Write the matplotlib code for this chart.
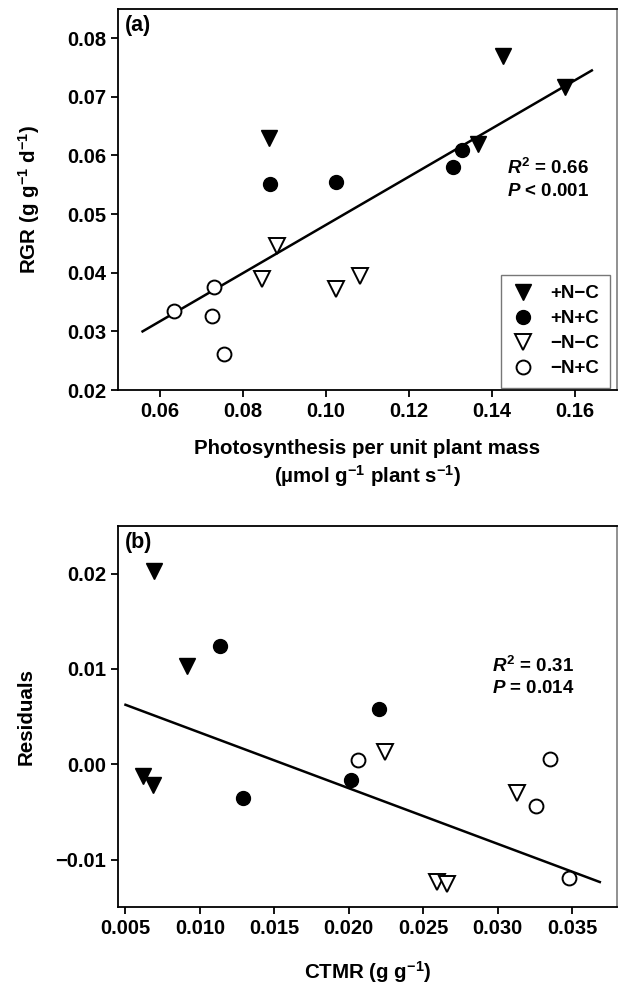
"""Two-panel scatter: RGR vs photosynthesis (a) and residuals vs CTMR (b)."""

import matplotlib
matplotlib.use("Agg")
import matplotlib.pyplot as plt

plt.rcParams["font.family"] = ["Liberation Sans", "DejaVu Sans"]
plt.rcParams["font.weight"] = "bold"
plt.rcParams["mathtext.fontset"] = "custom"
plt.rcParams["mathtext.rm"] = "Liberation Sans:bold"
plt.rcParams["mathtext.bf"] = "Liberation Sans:bold"
plt.rcParams["mathtext.it"] = "Liberation Sans:bold:italic"
plt.rcParams["mathtext.default"] = "rm"

# Panel (a): photosynthesis per unit plant mass vs RGR
a_nmc_x = [0.1427, 0.1575, 0.0864, 0.1365]
a_nmc_y = [0.0770, 0.0716, 0.0629, 0.0620]
a_npc_x = [0.0865, 0.1024, 0.1307, 0.1327]
a_npc_y = [0.0551, 0.0554, 0.0581, 0.0609]
a_mmc_x = [0.0882, 0.0847, 0.1025, 0.1083]
a_mmc_y = [0.0446, 0.0389, 0.0372, 0.0394]
a_mpc_x = [0.0732, 0.0635, 0.0727, 0.0756]
a_mpc_y = [0.0375, 0.0334, 0.0326, 0.0262]
a_fit_x = [0.0559, 0.1640]
a_fit_y = [0.0300, 0.0745]

# Panel (b): CTMR vs residuals
b_nmc_x = [0.0069, 0.00913, 0.00616, 0.00687]
b_nmc_y = [0.0203, 0.01036, -0.00128, -0.00215]
b_npc_x = [0.01137, 0.0220, 0.01287, 0.02018]
b_npc_y = [0.01237, 0.00583, -0.00355, -0.00163]
b_mmc_x = [0.0224, 0.0313, 0.0259, 0.0266]
b_mmc_y = [0.00129, -0.00303, -0.01233, -0.0126]
b_mpc_x = [0.02062, 0.0335, 0.0326, 0.03478]
b_mpc_y = [0.00049, 0.0005, -0.00435, -0.01197]
b_fit_x = [0.0050, 0.03686]
b_fit_y = [0.00624, -0.01236]

group_labels = ["+N\u2212C", "+N+C", "\u2212N\u2212C", "\u2212N+C"]
a_ticks_x = [0.06, 0.08, 0.10, 0.12, 0.14, 0.16]
a_ticks_y = [0.02, 0.03, 0.04, 0.05, 0.06, 0.07, 0.08]
b_ticks_x = [0.005, 0.010, 0.015, 0.020, 0.025, 0.030, 0.035]
b_ticks_y = [-0.01, 0.00, 0.01, 0.02]

styles = [
    dict(marker="v", color="black", mfc="black", ms=11),
    dict(marker="o", color="black", mfc="black", ms=10),
    dict(marker="v", color="black", mfc="white", ms=11, mew=1.4),
    dict(marker="o", color="black", mfc="white", ms=10, mew=1.4),
]


def style_axes(ax):
    for side in ["left", "bottom", "top", "right"]:
        ax.spines[side].set_linewidth(1.3)
    ax.spines["right"].set_color("#888888")
    ax.tick_params(direction="out", length=5, width=1.3, labelsize=14.5)
    for lab in ax.get_xticklabels() + ax.get_yticklabels():
        lab.set_fontweight("bold")


fig = plt.figure(figsize=(6.18, 9.85), dpi=100)
ax_a = fig.add_axes([0.191, 0.604, 0.807, 0.387])
ax_b = fig.add_axes([0.191, 0.079, 0.807, 0.387])

# (a)
groups_a = [(a_nmc_x, a_nmc_y), (a_npc_x, a_npc_y),
            (a_mmc_x, a_mmc_y), (a_mpc_x, a_mpc_y)]
ax_a.plot(a_fit_x, a_fit_y, color="black", lw=1.8, zorder=1)
for (xs, ys), st, lab in zip(groups_a, styles, group_labels):
    ax_a.plot(xs, ys, ls="none", label=lab, zorder=3, **st)
ax_a.set_xlim(0.05, 0.17)
ax_a.set_ylim(0.02, 0.085)
ax_a.set_xticks(a_ticks_x)
ax_a.set_xticklabels([f"{t:.2f}" for t in a_ticks_x])
ax_a.set_yticks(a_ticks_y)
ax_a.set_yticklabels([f"{t:.2f}" for t in a_ticks_y])
ax_a.set_xlabel("Photosynthesis per unit plant mass\n(\u00b5mol g$^{\u22121}$ plant s$^{\u22121}$)",
                fontsize=14.8, fontweight="bold", labelpad=13, linespacing=1.25)
ax_a.set_ylabel("RGR (g g$^{\u22121}$ d$^{\u22121}$)", fontsize=14.8,
                fontweight="bold", labelpad=18)
ax_a.text(0.013, 0.985, "(a)", transform=ax_a.transAxes, fontsize=15.5,
          fontweight="bold", va="top")
ax_a.text(0.1435, 0.0578, r"$\mathit{R}^{2}$ = 0.66", fontsize=13.5,
          fontweight="bold", va="center")
ax_a.text(0.1435, 0.0539, r"$\mathit{P}$ < 0.001", fontsize=13.5,
          fontweight="bold", va="center")
leg = ax_a.legend(loc="lower right", bbox_to_anchor=(0.99, 0.0), frameon=True,
                  prop={"weight": "bold", "size": 13.5},
                  fancybox=False, edgecolor="#555555", handletextpad=0.8,
                  borderpad=0.55, labelspacing=0.42, handlelength=1.3,
                  borderaxespad=0.12)
leg.get_frame().set_linewidth(1.0)
style_axes(ax_a)

# (b)
groups_b = [(b_nmc_x, b_nmc_y), (b_npc_x, b_npc_y),
            (b_mmc_x, b_mmc_y), (b_mpc_x, b_mpc_y)]
ax_b.plot(b_fit_x, b_fit_y, color="black", lw=1.8, zorder=1)
for (xs, ys), st in zip(groups_b, styles):
    ax_b.plot(xs, ys, ls="none", zorder=3, **st)
ax_b.set_xlim(0.0045, 0.038)
ax_b.set_ylim(-0.015, 0.025)
ax_b.set_xticks(b_ticks_x)
ax_b.set_xticklabels([f"{t:.3f}" for t in b_ticks_x])
ax_b.set_yticks(b_ticks_y)
ax_b.set_yticklabels([f"{t:.2f}".replace("-", "\u2212") for t in b_ticks_y])
ax_b.set_xlabel("CTMR (g g$^{\u22121}$)", fontsize=14.8, fontweight="bold",
                labelpad=15)
ax_b.set_ylabel("Residuals", fontsize=14.8, fontweight="bold", labelpad=14)
ax_b.text(0.013, 0.985, "(b)", transform=ax_b.transAxes, fontsize=15.5,
          fontweight="bold", va="top")
ax_b.text(0.0296, 0.0103, r"$\mathit{R}^{2}$ = 0.31", fontsize=13.5,
          fontweight="bold", va="center")
ax_b.text(0.0296, 0.0079, r"$\mathit{P}$ = 0.014", fontsize=13.5,
          fontweight="bold", va="center")
style_axes(ax_b)

fig.savefig("out.png", dpi=100)
